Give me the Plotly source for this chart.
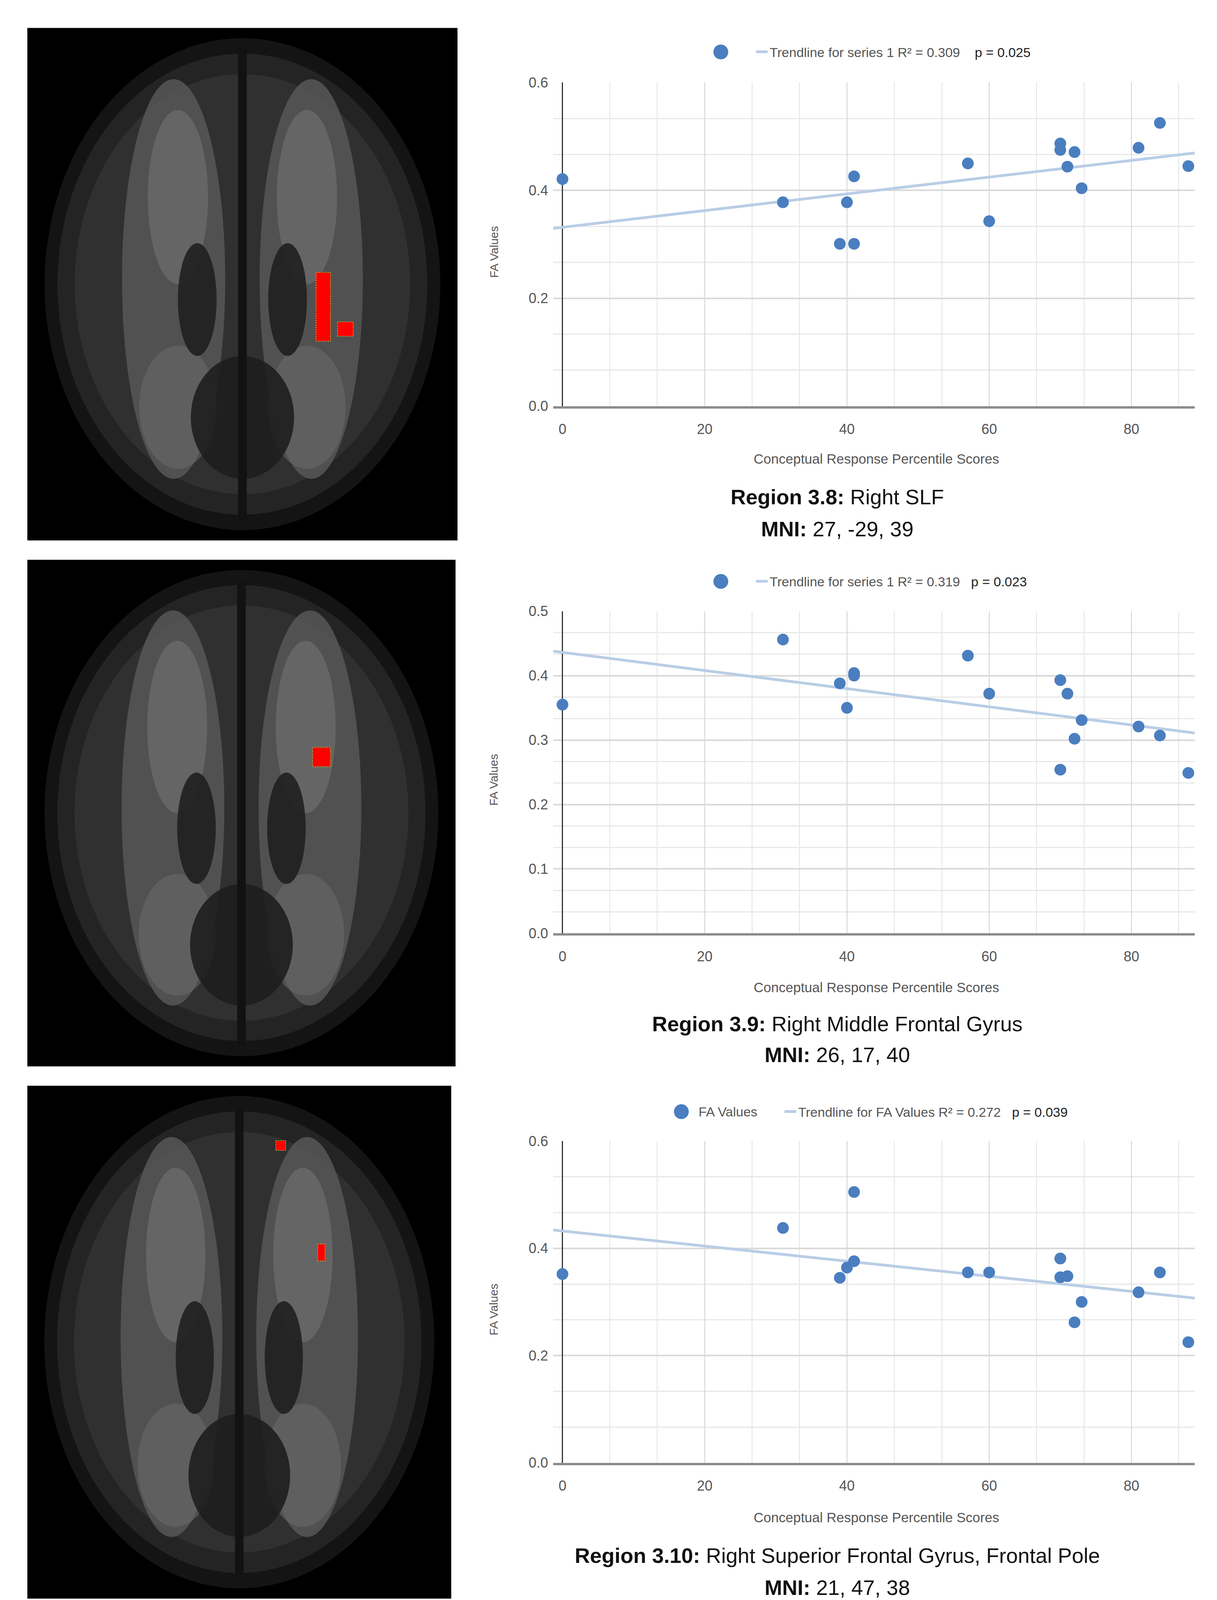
import numpy as np
import plotly.graph_objects as go

W, H = 3115, 4162
PAD = 8  # default body margin of the html page

# percentile scores (same subjects in every region)
scores_38 = [0, 31, 40, 41, 39, 41, 57, 60, 70, 70, 72, 71, 73, 81, 84, 88]
fa_38 = [0.421, 0.378, 0.378, 0.426, 0.301, 0.301, 0.450, 0.343, 0.487, 0.475,
         0.471, 0.444, 0.404, 0.479, 0.525, 0.445]

scores_39 = [0, 31, 39, 40, 41, 41, 57, 60, 70, 71, 73, 72, 70, 81, 84, 88]
fa_39 = [0.355, 0.456, 0.388, 0.350, 0.404, 0.400, 0.431, 0.372, 0.393, 0.372,
         0.331, 0.302, 0.254, 0.321, 0.307, 0.249]

scores_310 = [0, 31, 39, 40, 41, 41, 57, 60, 70, 70, 71, 72, 73, 81, 84, 88]
fa_310 = [0.352, 0.438, 0.345, 0.364, 0.376, 0.505, 0.355, 0.355, 0.381, 0.346,
          0.348, 0.262, 0.300, 0.318, 0.355, 0.225]

series_names = ["", "", "FA Values"]
trend_names = [
    "Trendline for series 1 R² = 0.309\u00a0\u00a0\u00a0 <span style='color:#222'>p = 0.025</span>",
    "Trendline for series 1 R² = 0.319\u00a0\u00a0 <span style='color:#222'>p = 0.023</span>",
    "Trendline for FA Values R² = 0.272\u00a0\u00a0 <span style='color:#222'>p = 0.039</span>",
]
region_labels = ["<b>Region 3.8:</b> Right SLF",
                 "<b>Region 3.9:</b> Right Middle Frontal Gyrus",
                 "<b>Region 3.10:</b> Right Superior Frontal Gyrus, Frontal Pole"]
mni_labels = ["<b>MNI:</b> 27, -29, 39", "<b>MNI:</b> 26, 17, 40", "<b>MNI:</b> 21, 47, 38"]
y_max = [0.6, 0.5, 0.6]
y_major = [0.2, 0.1, 0.2]

BLUE = "#4a7ebf"
TREND = "#b9cde6"
FONT = "Liberation Sans, Arial, sans-serif"

FW, FH = W - 2 * PAD, H - 2 * PAD


def px_x(p):
    return (p - PAD) / FW


def px_y(p):
    return 1 - (p - PAD) / FH


# pixel layout of each row: (plot top, plot bottom, legend y, x-title y, caption y, mni y)
rows = [
    (193, 1030, 114, 1166, 1264, 1347),
    (1560, 2393, 1483, 2532, 2627, 2707),
    (2930, 3762, 2854, 3903, 4001, 4084),
]
legend_dot_x = [1845, 1845, 1744]
legend_x = [1930, 1930, 2003]
brain_boxes = [(70, 52, 1171, 1377), (70, 1427, 1166, 2737), (70, 2787, 1155, 4113)]
clusters = [
    [(809, 684, 846, 862), (864, 812, 904, 849)],
    [(800, 1912, 846, 1962)],
    [(706, 2929, 731, 2954), (813, 3196, 832, 3240)],
]

data = [(scores_38, fa_38), (scores_39, fa_39), (scores_310, fa_310)]

fig = go.Figure()
shapes = []
annotations = []
x_left, x_right = 1416, 3058


def note(text, x, y, size, color, **kw):
    annotations.append(dict(
        text=text, xref="paper", yref="paper", x=px_x(x), y=px_y(y),
        xanchor=kw.pop("xanchor", "center"), yanchor="middle", showarrow=False,
        font=dict(family=FONT, size=size, color=color), **kw,
    ))


for i, (xs, ys) in enumerate(data):
    top, bottom, leg_y, title_y, cap_y, mni_y = rows[i]
    ax = "" if i == 0 else str(i + 1)
    leg = "legend" if i == 0 else f"legend{i + 1}"

    slope, intercept = np.polyfit(xs, ys, 1)
    tx = [-1.3, 88.9]
    ty = [intercept + slope * v for v in tx]

    fig.add_trace(go.Scatter(
        x=tx, y=ty, mode="lines", name=trend_names[i],
        line=dict(color=TREND, width=7), xaxis="x" + ax, yaxis="y" + ax,
        legend=leg, hoverinfo="skip",
    ))
    fig.add_trace(go.Scatter(
        x=xs, y=ys, mode="markers", name=series_names[i] or "series 1",
        marker=dict(color=BLUE, size=30), cliponaxis=False, showlegend=False,
        xaxis="x" + ax, yaxis="y" + ax,
    ))

    fig.update_layout({
        "xaxis" + ax: dict(
            domain=[px_x(x_left), px_x(x_right)], range=[-1.3, 88.9],
            anchor="y" + ax, tickvals=[0, 20, 40, 60, 80],
            showgrid=True, gridcolor="#d0d0d0", gridwidth=2,
            minor=dict(dtick=20 / 3, tick0=0, showgrid=True, gridcolor="#e3e3e3", gridwidth=2),
            zeroline=True, zerolinecolor="#333333", zerolinewidth=3,
            showline=True, linecolor="#8c8c8c", linewidth=6,
            ticks="", ticklabelstandoff=22,
            tickfont=dict(family=FONT, size=36, color="#555555"),
        ),
        "yaxis" + ax: dict(
            domain=[px_y(bottom), px_y(top)], range=[0, y_max[i]],
            anchor="x" + ax, dtick=y_major[i], tickformat=".1f",
            showgrid=True, gridcolor="#d9d9d9", gridwidth=4,
            minor=dict(dtick=y_major[i] / 3, tick0=0, showgrid=True, gridcolor="#e8e8e8", gridwidth=3),
            zeroline=False, showline=False, ticks="", ticklabelstandoff=12,
            tickfont=dict(family=FONT, size=36, color="#555555"),
        ),
        leg: dict(
            orientation="h", x=px_x(legend_x[i]), xanchor="left",
            y=px_y(leg_y), yanchor="middle", bgcolor="rgba(0,0,0,0)",
            font=dict(family=FONT, size=34, color="#555555"),
        ),
    })

    # big legend dot for the scatter series
    shapes.append(dict(
        type="circle", xref="paper", yref="paper", xsizemode="pixel", ysizemode="pixel",
        xanchor=px_x(legend_dot_x[i]), yanchor=px_y(leg_y),
        x0=-19, x1=19, y0=-19, y1=19, fillcolor=BLUE, line=dict(width=0),
    ))
    if series_names[i]:
        note(series_names[i], legend_dot_x[i] + 42, leg_y, 34, "#555555", xanchor="left")

    note("FA Values", 1264, (top + bottom) / 2 + 20, 30, "#555555", textangle=-90)
    note("Conceptual Response Percentile Scores", 2243, title_y, 35, "#555555")
    note(region_labels[i], 2143, cap_y, 54, "#111111")
    note(mni_labels[i], 2143, mni_y, 54, "#111111")

    # brain scan panel, drawn as simple shapes
    bx0, by0, bx1, by1 = brain_boxes[i]
    bw, bh = bx1 - bx0, by1 - by0

    def blob(kind, fx0, fy0, fx1, fy1, color, opacity=1.0):
        shapes.append(dict(
            type=kind, xref="paper", yref="paper", layer="below",
            x0=px_x(bx0 + fx0 * bw), x1=px_x(bx0 + fx1 * bw),
            y0=px_y(by0 + fy1 * bh), y1=px_y(by0 + fy0 * bh),
            fillcolor=color, opacity=opacity, line=dict(width=0),
        ))

    blob("rect", 0, 0, 1, 1, "#000000")
    blob("circle", 0.04, 0.02, 0.96, 0.98, "#141414")
    blob("circle", 0.07, 0.05, 0.93, 0.95, "#242424")
    blob("circle", 0.11, 0.09, 0.89, 0.91, "#303030")
    blob("circle", 0.22, 0.10, 0.46, 0.88, "#5a5a5a", 0.8)
    blob("circle", 0.54, 0.10, 0.78, 0.88, "#5a5a5a", 0.8)
    blob("circle", 0.28, 0.16, 0.42, 0.50, "#7a7a7a", 0.5)
    blob("circle", 0.58, 0.16, 0.72, 0.50, "#7a7a7a", 0.5)
    blob("circle", 0.26, 0.62, 0.44, 0.86, "#6e6e6e", 0.5)
    blob("circle", 0.56, 0.62, 0.74, 0.86, "#6e6e6e", 0.5)
    blob("circle", 0.35, 0.42, 0.44, 0.64, "#1f1f1f", 0.9)
    blob("circle", 0.56, 0.42, 0.65, 0.64, "#1f1f1f", 0.9)
    blob("circle", 0.38, 0.64, 0.62, 0.88, "#1e1e1e", 0.9)
    blob("rect", 0.49, 0.04, 0.51, 0.96, "#121212")
    for (cx0, cy0, cx1, cy1) in clusters[i]:
        shapes.append(dict(
            type="rect", xref="paper", yref="paper",
            x0=px_x(cx0), x1=px_x(cx1), y0=px_y(cy1), y1=px_y(cy0),
            fillcolor="#ff0000", line=dict(color="#8fbf3f", width=2, dash="dot"),
        ))

fig.update_layout(
    width=FW, height=FH, margin=dict(l=0, r=0, t=0, b=0),
    paper_bgcolor="white", plot_bgcolor="white",
    shapes=shapes, annotations=annotations, hovermode=False,
)

fig.write_html("out.html")
